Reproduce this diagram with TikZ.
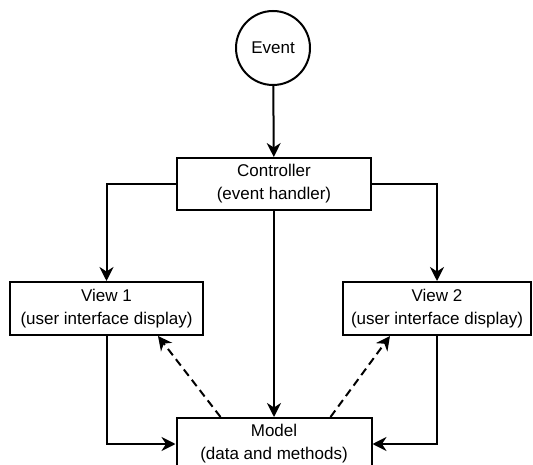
\documentclass[tikz,border=0pt]{standalone}
\usepackage{fontspec}
\setmainfont{Liberation Sans}
\usetikzlibrary{arrows.meta}
\tikzset{
    box/.style={draw, line width=2pt, inner sep=0pt, align=center},
    arr/.style={line width=2pt, -{Stealth[length=14pt,width=14pt,inset=4.5pt]}},
    darr/.style={arr, dash pattern=on 8pt off 5pt}
}
\begin{document}
\begin{tikzpicture}[x=1pt, y=-1pt, font=\fontsize{17}{23}\selectfont]
            \useasboundingbox (0,0) rectangle (533,465);
            \clip (0,0) rectangle (533,465);
            \node [ box, circle, minimum size=74pt ] (event) at (273,48) {Event};
            \node [ box, minimum width=194pt, minimum height=52pt ] (ctrl) at (274,184) {Controller\\(event handler)};
            \node [ box, minimum width=193pt, minimum height=53pt ] (view1) at (106.5,308.5) {View 1\\(user interface display)};
            \node [ box, minimum width=188pt, minimum height=53pt ] (view2) at (437,308.5) {View 2\\(user interface display)};
            \node [ box, minimum width=195pt, minimum height=52pt ] (model) at (274,444) {Model\\(data and methods)};
            \draw [ arr ] (event) -- (ctrl);
            \draw [ arr ] (ctrl.west) -| (view1.north);
            \draw [ arr ] (ctrl.east) -| (view2.north);
            \draw [ arr ] (ctrl) -- (model);
            \draw [ arr ] (view1.south) |- (model.west);
            \draw [ arr ] (view2.south) |- (model.east);
            \draw [ darr ] ([xshift=45pt]model.north west) -- ([xshift=-46pt]view1.south east);
            \draw [ darr ] ([xshift=-42pt]model.north east) -- ([xshift=48pt]view2.south west);
        \end{tikzpicture}
\end{document}
